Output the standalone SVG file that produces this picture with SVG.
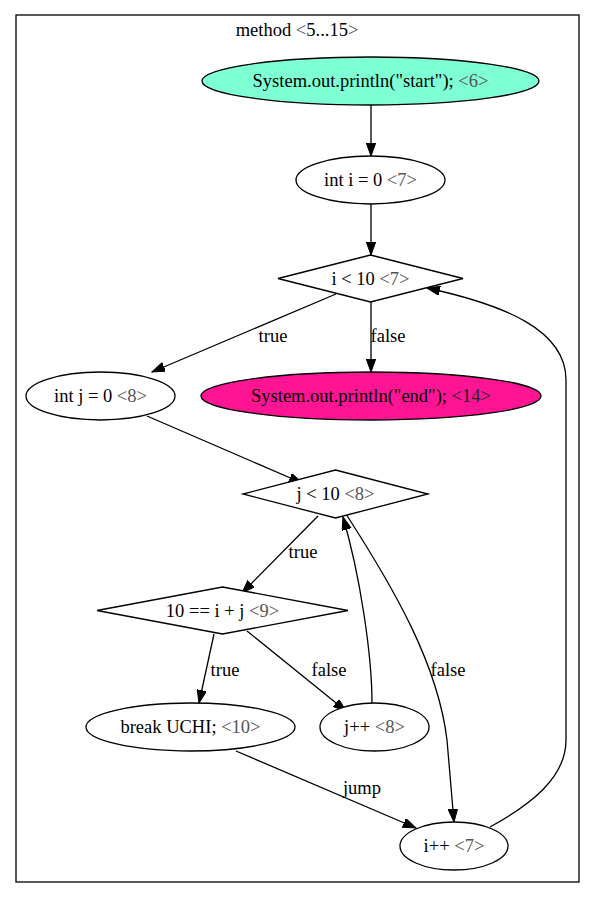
<svg xmlns="http://www.w3.org/2000/svg" width="595" height="897" viewBox="0 0 595 897">
<style>
text{font-family:"Liberation Serif","Times New Roman",serif;font-size:18.5px;fill:#000;text-anchor:middle}
.ln{fill:#555}
.n{fill:#fff;stroke:#000;stroke-width:1.3}
.e{fill:none;stroke:#000;stroke-width:1.3;marker-end:url(#ah)}
</style>
<defs>
<marker id="ah" markerUnits="userSpaceOnUse" markerWidth="14" markerHeight="10" refX="13" refY="4.7" orient="auto" viewBox="0 0 14 10">
<path d="M0,0 L13,4.7 L0,9.4 z" fill="#000" stroke="#000" stroke-width="1"/>
</marker>
</defs>
<rect width="595" height="897" fill="#fff"/>
<g id="cluster">
<rect x="16" y="15" width="563" height="867" fill="none" stroke="#000" stroke-width="1.3"/>
<text x="297" y="36">method <tspan class="ln">&lt;</tspan>5...15<tspan class="ln">&gt;</tspan></text>
</g>
<g id="edges">
<path class="e" d="M371,105 L371,156"/>
<path class="e" d="M371,204 L371,255"/>
<path class="e" d="M336,294 L152,372"/>
<text x="273" y="342">true</text>
<path class="e" d="M371,302 L371,372"/>
<text x="388" y="342">false</text>
<path class="e" d="M147,416 L302,483"/>
<path class="e" d="M318,516 L242,593"/>
<text x="303" y="558">true</text>
<path class="e" d="M346,514 C395,590 438,665 447,740 L454,822"/>
<text x="448" y="676">false</text>
<path class="e" d="M214,634 L199,703"/>
<text x="225" y="676">true</text>
<path class="e" d="M247,631 L346,711"/>
<text x="329" y="676">false</text>
<path class="e" d="M372,703 C372,655 360,575 343,517"/>
<path class="e" d="M236,751 L416,828"/>
<text x="362" y="794">jump</text>
<path class="e" d="M490,827 C530,805 566,778 566,740 L566,380 C566,330 505,305 427,288"/>
</g>
<g id="n6">
<ellipse cx="370.5" cy="81" rx="168.5" ry="24" fill="#7fffd4" stroke="#000" stroke-width="1.3"/>
<text x="370.5" y="87">System.out.println("start"); <tspan class="ln">&lt;6&gt;</tspan></text>
</g>
<g id="n7a">
<ellipse class="n" cx="370.5" cy="180" rx="74.5" ry="24"/>
<text x="370.5" y="186">int i = 0 <tspan class="ln">&lt;7&gt;</tspan></text>
</g>
<g id="n7b">
<polygon class="n" points="370.5,255 463,278.5 370.5,302 278,278.5"/>
<text x="370.5" y="284.5">i &lt; 10 <tspan class="ln">&lt;7&gt;</tspan></text>
</g>
<g id="n8a">
<ellipse class="n" cx="100.5" cy="396" rx="74.5" ry="24"/>
<text x="100.5" y="402">int j = 0 <tspan class="ln">&lt;8&gt;</tspan></text>
</g>
<g id="n14">
<ellipse cx="371" cy="396" rx="170" ry="24" fill="#ff1493" stroke="#000" stroke-width="1.3"/>
<text x="371" y="402">System.out.println("end"); <tspan fill="#222">&lt;14&gt;</tspan></text>
</g>
<g id="n8b">
<polygon class="n" points="335.5,470 428,494 335.5,518 243,494"/>
<text x="335.5" y="500">j &lt; 10 <tspan class="ln">&lt;8&gt;</tspan></text>
</g>
<g id="n9">
<polygon class="n" points="222.5,587 348,610.5 222.5,634 97,610.5"/>
<text x="222.5" y="616.5">10 == i + j <tspan class="ln">&lt;9&gt;</tspan></text>
</g>
<g id="n10">
<ellipse class="n" cx="190.5" cy="727" rx="104.5" ry="24"/>
<text x="190.5" y="733">break UCHI; <tspan class="ln">&lt;10&gt;</tspan></text>
</g>
<g id="n8c">
<ellipse class="n" cx="374.5" cy="727" rx="54.5" ry="24"/>
<text x="374.5" y="733">j++ <tspan class="ln">&lt;8&gt;</tspan></text>
</g>
<g id="n7c">
<ellipse class="n" cx="454" cy="846" rx="54" ry="24"/>
<text x="454" y="852">i++ <tspan class="ln">&lt;7&gt;</tspan></text>
</g>
</svg>
